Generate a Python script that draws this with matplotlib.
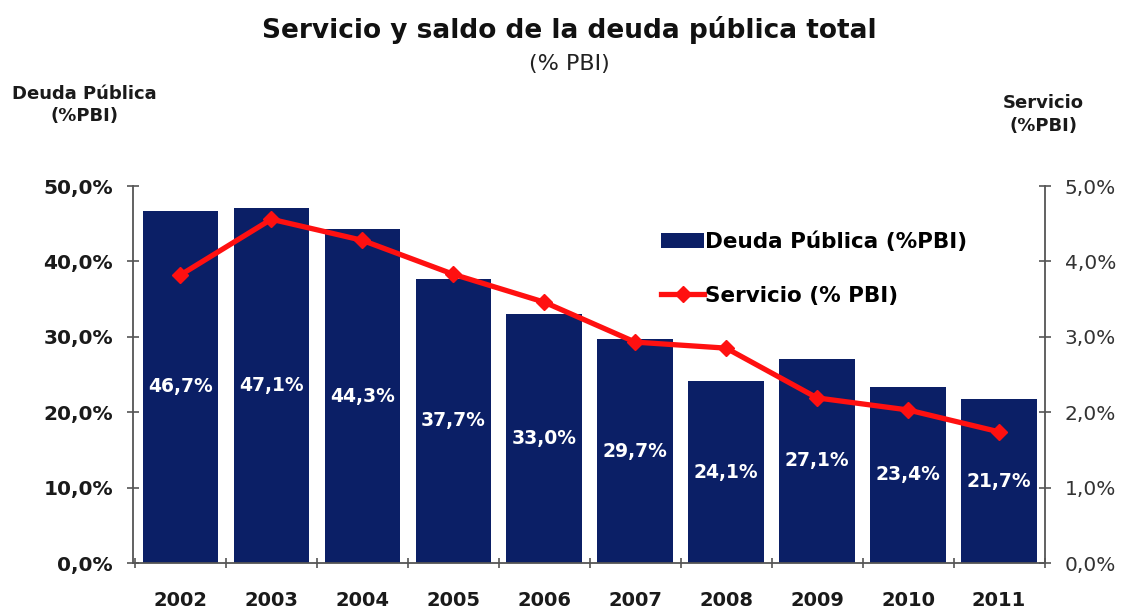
import matplotlib.pyplot as plt
import numpy as np
from matplotlib.ticker import FuncFormatter, FixedLocator

plt.rcParams['font.family'] = ['DejaVu Sans']

years = ['2002', '2003', '2004', '2005', '2006', '2007', '2008', '2009', '2010', '2011']
deuda = [46.7, 47.1, 44.3, 37.7, 33.0, 29.7, 24.1, 27.1, 23.4, 21.7]
servicio = [3.82, 4.56, 4.28, 3.83, 3.46, 2.93, 2.85, 2.19, 2.03, 1.74]

navy = '#0b1f66'
red = '#ff1010'
axis_gray = '#555555'


def pct(v, p=None):
    return f'{v:.1f}%'.replace('.', ',')


fig = plt.figure(figsize=(11.28, 6.09), dpi=100)
ax = fig.add_axes([0.118, 0.0755, 0.808, 0.619])
x = np.arange(len(years))

bars = ax.bar(x, deuda, width=0.83, color=navy, zorder=2)
ax.bar_label(bars, labels=[pct(v) for v in deuda], label_type='center',
             color='white', fontsize=13.5, fontweight='bold')

ax.set_xlim(-0.52, 9.5)
ax.set_ylim(0, 50)
ax.set_yticks(np.arange(0, 51, 10))
ax.yaxis.set_major_formatter(FuncFormatter(pct))
ax.set_xticks(x)
ax.set_xticklabels(years)
ax.xaxis.set_minor_locator(FixedLocator(np.arange(-0.5, 10, 1)))
ax.tick_params(axis='x', which='major', length=0, pad=20, labelsize=14)
ax.tick_params(axis='x', which='minor', length=7, direction='inout', color=axis_gray, width=1.2)
ax.tick_params(axis='y', length=9, direction='inout', color=axis_gray, width=1.2, labelsize=14.5, pad=10)
for t in ax.get_xticklabels() + ax.get_yticklabels():
    t.set_fontweight('bold')
    t.set_color('#1a1a1a')
ax.spines['top'].set_visible(False)
ax.spines['right'].set_visible(False)
for s in ['left', 'bottom']:
    ax.spines[s].set_color(axis_gray)
    ax.spines[s].set_linewidth(1.3)

ax2 = ax.twinx()
line, = ax2.plot(x, servicio, color=red, lw=3.8, marker='D', markersize=8, zorder=3)
ax2.set_ylim(0, 5)
ax2.set_yticks(np.arange(0, 5.1, 1))
ax2.yaxis.set_major_formatter(FuncFormatter(pct))
ax2.tick_params(axis='y', length=9, direction='inout', color=axis_gray, width=1.2,
                labelsize=14.5, pad=10, labelcolor='#333333')
for s in ['top', 'left', 'bottom']:
    ax2.spines[s].set_visible(False)
ax2.spines['right'].set_color(axis_gray)
ax2.spines['right'].set_linewidth(1.3)

ax2.legend([bars, line], ['Deuda Pública (%PBI)', 'Servicio (% PBI)'],
           loc='upper left', bbox_to_anchor=(0.558, 0.93), frameon=False,
           prop={'size': 15.5, 'weight': 'bold'}, handlelength=2.0,
           handletextpad=0.05, labelspacing=1.55)

fig.text(0.505, 0.951, 'Servicio y saldo de la deuda pública total', ha='center', va='center',
         fontsize=19, fontweight='bold', color='#111111')
fig.text(0.505, 0.895, '(% PBI)', ha='center', va='center', fontsize=16, color='#222222')
fig.text(0.075, 0.827, 'Deuda Pública\n(%PBI)', ha='center', va='center', fontsize=13,
         fontweight='bold', color='#1a1a1a', linespacing=1.3)
fig.text(0.925, 0.812, 'Servicio\n(%PBI)', ha='center', va='center', fontsize=13,
         fontweight='bold', color='#1a1a1a', linespacing=1.3)

fig.savefig('out.png', dpi=100)
